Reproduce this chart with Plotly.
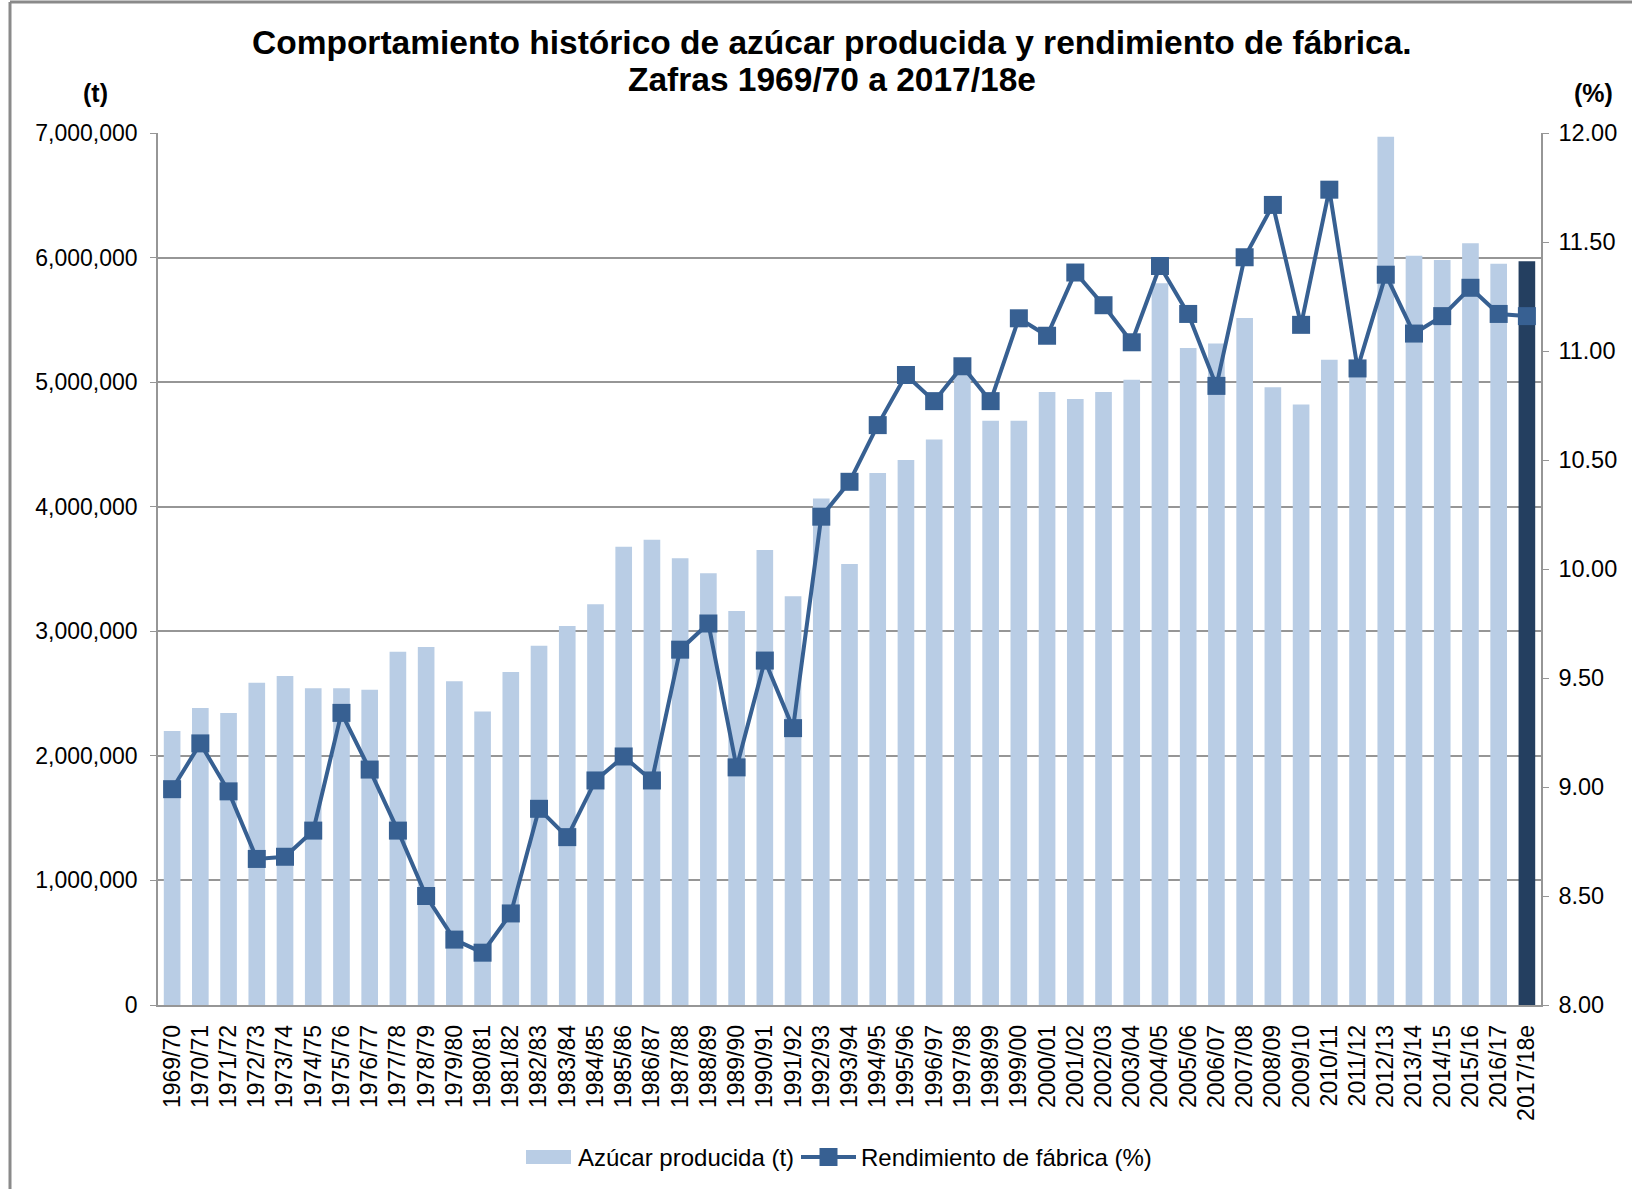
import plotly.graph_objects as go

# zafras (seasons)
seasons = ["1969/70", "1970/71", "1971/72", "1972/73", "1973/74", "1974/75", "1975/76",
           "1976/77", "1977/78", "1978/79", "1979/80", "1980/81", "1981/82", "1982/83",
           "1983/84", "1984/85", "1985/86", "1986/87", "1987/88", "1988/89", "1989/90",
           "1990/91", "1991/92", "1992/93", "1993/94", "1994/95", "1995/96", "1996/97",
           "1997/98", "1998/99", "1999/00", "2000/01", "2001/02", "2002/03", "2003/04",
           "2004/05", "2005/06", "2006/07", "2007/08", "2008/09", "2009/10", "2010/11",
           "2011/12", "2012/13", "2013/14", "2014/15", "2015/16", "2016/17", "2017/18e"]

# azucar producida (t)
azucar = [2200000, 2385000, 2345000, 2587000, 2641000, 2542000, 2542000,
          2531000, 2836000, 2874000, 2598000, 2357000, 2673000, 2884000,
          3042000, 3217000, 3679000, 3735000, 3586000, 3466000, 3163000,
          3653000, 3281000, 4066000, 3540000, 4270000, 4375000, 4540000,
          5100000, 4690000, 4690000, 4920000, 4865000, 4920000, 5020000,
          5793000, 5274000, 5310000, 5515000, 4960000, 4820000, 5180000,
          5050000, 6970000, 6015000, 5980000, 6115000, 5950000, 5970000]

# rendimiento de fabrica (%)
rendimiento = [8.99, 9.20, 8.98, 8.67, 8.68, 8.80, 9.34,
               9.08, 8.80, 8.50, 8.30, 8.24, 8.42, 8.90,
               8.77, 9.03, 9.14, 9.03, 9.63, 9.75, 9.09,
               9.58, 9.27, 10.24, 10.40, 10.66, 10.89, 10.77,
               10.93, 10.77, 11.15, 11.07, 11.36, 11.21, 11.04,
               11.39, 11.17, 10.84, 11.43, 11.67, 11.12, 11.74,
               10.92, 11.35, 11.08, 11.16, 11.29, 11.17, 11.16]

FONT = "Liberation Sans, Arial, sans-serif"
LIGHT = "#B9CDE5"
DARK = "#243F60"
LINE = "#376092"
GRID = "#969696"

W, H = 1632, 1189
L, R, T, B = 158, 91, 133, 184


def px(x):
    # pixel -> paper x
    return (x - L) / (W - L - R)


def py(y):
    # pixel -> paper y
    return (H - B - y) / (H - T - B)


bar_colors = [DARK if s.endswith("e") else LIGHT for s in seasons]

fig = go.Figure(data=[
    go.Bar(x=seasons, y=azucar, name="Azúcar producida (t)",
           marker=dict(color=bar_colors, line=dict(width=0)), yaxis="y"),
    go.Scatter(x=seasons, y=rendimiento, name="Rendimiento de fábrica (%)",
               mode="lines+markers", yaxis="y2",
               line=dict(color=LINE, width=4),
               marker=dict(symbol="square", size=18, color=LINE)),
])

fig.update_layout(
    width=W, height=H,
    margin=dict(l=L, r=R, t=T, b=B),
    paper_bgcolor="white", plot_bgcolor="white",
    font=dict(family=FONT, size=23, color="black"),
    bargap=0.41,
    showlegend=False,
    xaxis=dict(type="category", range=[-0.5, len(seasons) - 0.5],
               tickmode="array", tickvals=seasons,
               showline=True, linecolor=GRID, linewidth=1.5,
               ticks="", tickangle=-90, tickfont=dict(size=23), ticklabelstandoff=9,
               showgrid=False),
    yaxis=dict(range=[0, 7000000], dtick=1000000, tickformat=",", showgrid=True,
               gridcolor=GRID, gridwidth=1.5, showline=True, linecolor=GRID, linewidth=1.5,
               ticks="outside", ticklen=6, tickcolor=GRID, zeroline=False,
               ticklabelstandoff=8, tickfont=dict(size=23)),
    yaxis2=dict(range=[8, 12], dtick=0.5, tickformat=".2f", overlaying="y", side="right",
                showgrid=False, showline=True, linecolor=GRID, linewidth=1.5,
                ticks="outside", ticklen=6, tickcolor=GRID, zeroline=False,
                ticklabelstandoff=5, tickfont=dict(size=23.5)),
    hovermode=False,
)

# titles
fig.add_annotation(text="<b>Comportamiento histórico de azúcar producida y rendimiento de fábrica.</b>",
                   xref="paper", yref="paper", x=px(832), y=py(42), xanchor="center", yanchor="middle",
                   showarrow=False, font=dict(size=33.5))
fig.add_annotation(text="<b>Zafras 1969/70 a 2017/18e</b>",
                   xref="paper", yref="paper", x=px(832), y=py(79), xanchor="center", yanchor="middle",
                   showarrow=False, font=dict(size=33.5))
fig.add_annotation(text="<b>(t)</b>", xref="paper", yref="paper", x=px(95), y=py(93),
                   xanchor="center", yanchor="middle", showarrow=False, font=dict(size=25))
fig.add_annotation(text="<b>(%)</b>", xref="paper", yref="paper", x=px(1593), y=py(93),
                   xanchor="center", yanchor="middle", showarrow=False, font=dict(size=25))

# legend drawn by hand (wide bar patch as in the original)
fig.add_shape(type="rect", xref="paper", yref="paper", x0=px(526), x1=px(571), y0=py(1164), y1=py(1150),
              fillcolor=LIGHT, line=dict(width=0))
fig.add_annotation(text="Azúcar producida (t)", xref="paper", yref="paper", x=px(576), y=py(1157),
                   xanchor="left", yanchor="middle", showarrow=False, font=dict(size=24))
fig.add_shape(type="line", xref="paper", yref="paper", x0=px(801), x1=px(856), y0=py(1157), y1=py(1157),
              line=dict(color=LINE, width=4))
fig.add_shape(type="rect", xref="paper", yref="paper", x0=px(819.5), x1=px(837.5), y0=py(1166), y1=py(1148),
              fillcolor=LINE, line=dict(width=0))
fig.add_annotation(text="Rendimiento de fábrica (%)", xref="paper", yref="paper", x=px(859), y=py(1157),
                   xanchor="left", yanchor="middle", showarrow=False, font=dict(size=24))

# outer frame (only left and top edges visible)
fig.add_shape(type="line", xref="paper", yref="paper", x0=px(10), x1=px(10), y0=py(1200), y1=py(2),
              line=dict(color="#8A8A8A", width=3))
fig.add_shape(type="line", xref="paper", yref="paper", x0=px(10), x1=px(1640), y0=py(2), y1=py(2),
              line=dict(color="#8A8A8A", width=3))

fig.write_html("out.html", config={"displayModeBar": False},
               post_script="document.body.style.margin='0';")
